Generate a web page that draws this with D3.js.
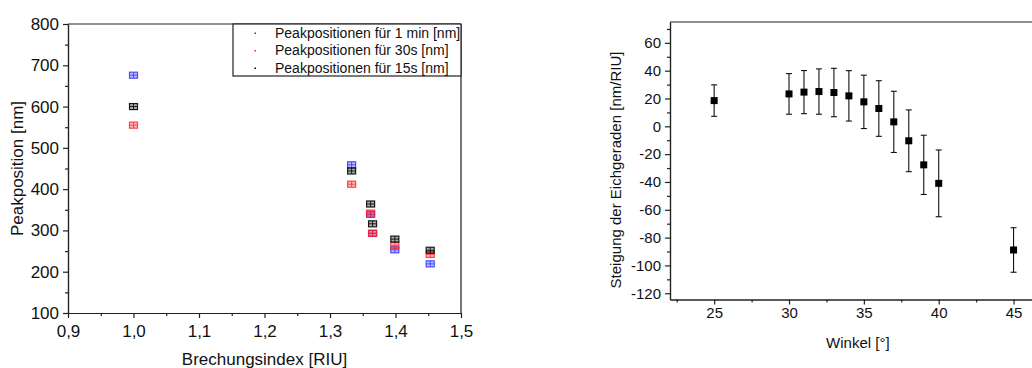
<!DOCTYPE html>
<html><head><meta charset="utf-8">
<script src="https://cdn.jsdelivr.net/npm/d3@7"></script>
<style>body{margin:0;background:#fff}svg{display:block;font-family:Arial,"Liberation Sans",sans-serif}</style>
</head><body>
<svg id="c" width="1032" height="368"></svg>
<script>
// Left chart data
const refrIndex = [1.0, 1.333, 1.362, 1.365, 1.399, 1.453];
const peak1min = [676, 459, 339, 293, 253, 219];
const peak30s  = [555, 412, 342, 293, 264, 242];
const peak15s  = [600, 444, 364, 316, 279, 252];
const seriesNames = ["Peakpositionen für 1 min [nm]", "Peakpositionen für 30s [nm]", "Peakpositionen für 15s [nm]"];
const seriesColors = ["#2a2aff", "#ff2020", "#000000"];
const leftXTicks = [0.9, 1.0, 1.1, 1.2, 1.3, 1.4, 1.5];
const leftYTicks = [100, 200, 300, 400, 500, 600, 700, 800];

// Right chart data
const winkel = [25, 30, 31, 32, 33, 34, 35, 36, 37, 38, 39, 40, 45];
const steigung = [18.5, 23.3, 24.6, 25.0, 24.3, 21.9, 17.6, 12.8, 3.2, -10.4, -27.7, -41.0, -88.9];
const fehler = [11.3, 14.6, 15.5, 16.3, 17.4, 18.1, 19.2, 20.0, 22.0, 22.2, 21.3, 24.0, 16.0];
const rightXTicks = [25, 30, 35, 40, 45];
const rightYTicks = [-120, -100, -80, -60, -40, -20, 0, 20, 40, 60];

const svg = d3.select("#c");
const axisCol = "#222";
const plain = d => String(d);

// ---------- Left chart ----------
const L = {l: 68, r: 461, t: 24, b: 313};
const xL = d3.scaleLinear().domain([0.9, 1.5]).range([L.l, L.r]);
const yL = d3.scaleLinear().domain([100, 800]).range([L.b, L.t]);
const gL = svg.append("g");
const fmtComma = d => d3.format(".1f")(d).replace(".", ",");

const xAxL = d3.axisBottom(xL).tickValues(leftXTicks).tickFormat(fmtComma).tickSize(5).tickSizeOuter(0);
const xAxLmin = d3.axisBottom(xL).tickValues(d3.range(0.95, 1.5, 0.1)).tickFormat("").tickSize(3).tickSizeOuter(0);
const yAxL = d3.axisLeft(yL).tickValues(leftYTicks).tickFormat(plain).tickSize(5).tickSizeOuter(0);
const yAxLmin = d3.axisLeft(yL).tickValues(d3.range(150, 800, 100)).tickFormat("").tickSize(3).tickSizeOuter(0);

function styleAxis(g, fs) {
  g.selectAll("path,line").attr("stroke", axisCol).attr("stroke-width", 1.2);
  g.selectAll("text").attr("fill", "#111").style("font-size", fs + "px").style("font-family", "Arial, 'Liberation Sans', sans-serif");
}
gL.append("g").attr("transform", `translate(0,${L.b})`).call(xAxLmin).call(g => styleAxis(g, 17));
gL.append("g").attr("transform", `translate(0,${L.b})`).call(xAxL).call(g => { styleAxis(g, 17); g.selectAll("text").attr("dy", "0.95em").attr("y", 8); });
gL.append("g").attr("transform", `translate(${L.l},0)`).call(yAxLmin).call(g => styleAxis(g, 17));
gL.append("g").attr("transform", `translate(${L.l},0)`).call(yAxL).call(g => { styleAxis(g, 17); g.selectAll("text").attr("x", -9); });
gL.append("line").attr("x1", L.l).attr("x2", L.r).attr("y1", L.t).attr("y2", L.t).attr("stroke", axisCol).attr("stroke-width", 1.2);
gL.append("line").attr("x1", L.r).attr("x2", L.r).attr("y1", L.t).attr("y2", L.b).attr("stroke", "#555").attr("stroke-width", 1.6);

// markers
const seriesData = [peak1min, peak30s, peak15s];
seriesData.forEach((vals, si) => {
  const col = seriesColors[si];
  const g = gL.append("g").attr("opacity", si === 2 ? 0.9 : 0.85);
  vals.forEach((v, i) => {
    const cx = xL(refrIndex[i]), cy = yL(v);
    g.append("rect").attr("x", cx - 4).attr("y", cy - 3).attr("width", 8).attr("height", 6)
      .attr("fill", col).attr("fill-opacity", 0.35).attr("stroke", col).attr("stroke-width", 1.2);
    g.append("line").attr("x1", cx - 4).attr("x2", cx + 4).attr("y1", cy).attr("y2", cy).attr("stroke", col).attr("stroke-width", 1);
    g.append("line").attr("x1", cx).attr("x2", cx).attr("y1", cy - 3).attr("y2", cy + 3).attr("stroke", col).attr("stroke-width", 1);
  });
});

// legend
const leg = gL.append("g");
leg.append("rect").attr("x", 233).attr("y", L.t).attr("width", L.r - 233).attr("height", 52)
  .attr("fill", "#fff").attr("stroke", axisCol).attr("stroke-width", 1.2);
seriesNames.forEach((n, i) => {
  const y = 33 + i * 17.5;
  leg.append("rect").attr("x", 254.5).attr("y", y - 0.5).attr("width", 1.5).attr("height", 1.5).attr("fill", seriesColors[i]);
  leg.append("text").attr("x", 275).attr("y", y).attr("dy", "0.35em").style("font-size", "14px").attr("fill", "#111").text(n);
});

gL.append("text").attr("x", (L.l + L.r) / 2).attr("y", 359).attr("dy", "0.35em").attr("text-anchor", "middle")
  .style("font-size", "17px").attr("fill", "#111").text("Brechungsindex [RIU]");
gL.append("text").attr("transform", `translate(17,${(L.t + L.b) / 2}) rotate(-90)`).attr("dy", "0.35em").attr("text-anchor", "middle")
  .style("font-size", "17px").attr("fill", "#111").text("Peakposition [nm]");

// ---------- Right chart ----------
const R = {l: 670, r: 1045, t: 22, b: 299.5};
const xR = d3.scaleLinear().domain([22.05, 47.1]).range([R.l, R.r]);
const yR = d3.scaleLinear().domain([-124.5, 75]).range([R.b, R.t]);
const gR = svg.append("g");
const xAxR = d3.axisBottom(xR).tickValues(rightXTicks).tickFormat(plain).tickSize(5).tickSizeOuter(0);
const xAxRmin = d3.axisBottom(xR).tickValues(d3.range(22.5, 47, 5)).tickFormat("").tickSize(3).tickSizeOuter(0);
const yAxR = d3.axisLeft(yR).tickValues(rightYTicks).tickFormat(plain).tickSize(5).tickSizeOuter(0);
const yAxRmin = d3.axisLeft(yR).tickValues(d3.range(-110, 75, 20)).tickFormat("").tickSize(3).tickSizeOuter(0);
gR.append("g").attr("transform", `translate(0,${R.b})`).call(xAxRmin).call(g => styleAxis(g, 15));
gR.append("g").attr("transform", `translate(0,${R.b})`).call(xAxR).call(g => { styleAxis(g, 15); g.selectAll("text").attr("y", 8); });
gR.append("g").attr("transform", `translate(${R.l},0)`).call(yAxRmin).call(g => styleAxis(g, 15));
gR.append("g").attr("transform", `translate(${R.l},0)`).call(yAxR).call(g => { styleAxis(g, 15); g.selectAll("text").attr("x", -9); });
gR.append("line").attr("x1", R.l).attr("x2", R.r).attr("y1", R.t).attr("y2", R.t).attr("stroke", axisCol).attr("stroke-width", 1.2);

const eb = gR.append("g").attr("stroke", "#111").attr("stroke-width", 1.1);
winkel.forEach((w, i) => {
  const cx = xR(w), y1 = yR(steigung[i] + fehler[i]), y2 = yR(steigung[i] - fehler[i]);
  eb.append("line").attr("x1", cx).attr("x2", cx).attr("y1", y1).attr("y2", y2);
  eb.append("line").attr("x1", cx - 3).attr("x2", cx + 3).attr("y1", y1).attr("y2", y1);
  eb.append("line").attr("x1", cx - 3).attr("x2", cx + 3).attr("y1", y2).attr("y2", y2);
});
gR.append("g").selectAll("rect").data(winkel).join("rect")
  .attr("x", d => xR(d) - 3.5).attr("y", (d, i) => yR(steigung[i]) - 3.5)
  .attr("width", 7).attr("height", 7).attr("fill", "#000");

gR.append("text").attr("x", xR(34.6)).attr("y", 343).attr("dy", "0.35em").attr("text-anchor", "middle")
  .style("font-size", "15px").attr("fill", "#111").text("Winkel [°]");
gR.append("text").attr("transform", `translate(616,170) rotate(-90)`).attr("dy", "0.35em").attr("text-anchor", "middle")
  .style("font-size", "15px").attr("fill", "#111").text("Steigung der Eichgeraden [nm/RIU]");
</script>
</body></html>
